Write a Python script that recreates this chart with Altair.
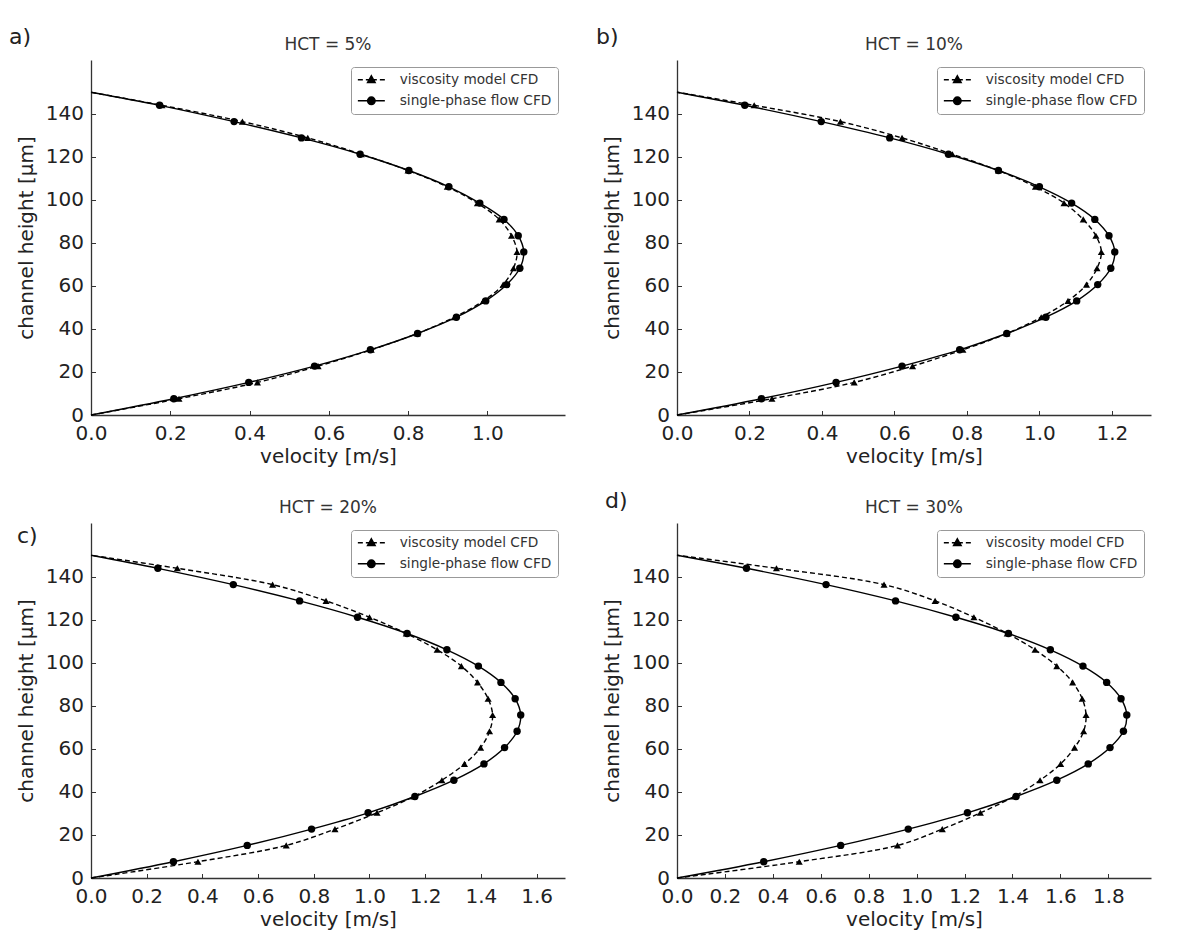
import altair as alt
import pandas as pd

FONT = "DejaVu Sans"

# sampled channel heights [µm], bottom wall to top wall
heights = [0, 7.58, 15.15, 22.73, 30.30, 37.88, 45.45, 53.03, 60.61, 68.18, 75.76,
           83.33, 90.91, 98.48, 106.06, 113.64, 121.21, 128.79, 136.36, 143.94, 150]

# velocity profiles [m/s], one value per height
visc_5 = [0, 0.222, 0.420, 0.573, 0.707, 0.823, 0.917, 0.990, 1.040, 1.066, 1.075,
          1.061, 1.030, 0.975, 0.899, 0.800, 0.682, 0.547, 0.382, 0.179, 0]
single_5 = [0, 0.209, 0.398, 0.564, 0.705, 0.824, 0.922, 0.996, 1.049, 1.082, 1.092,
            1.078, 1.042, 0.981, 0.903, 0.802, 0.679, 0.531, 0.361, 0.173, 0]

visc_10 = [0, 0.262, 0.489, 0.650, 0.789, 0.910, 1.005, 1.079, 1.130, 1.159, 1.171,
           1.156, 1.121, 1.068, 0.989, 0.887, 0.760, 0.621, 0.451, 0.213, 0]
single_10 = [0, 0.233, 0.439, 0.621, 0.780, 0.910, 1.018, 1.103, 1.161, 1.197, 1.208,
             1.192, 1.153, 1.089, 1.000, 0.887, 0.749, 0.587, 0.398, 0.187, 0]

visc_20 = [0, 0.384, 0.701, 0.876, 1.027, 1.159, 1.260, 1.341, 1.399, 1.431, 1.442,
           1.426, 1.388, 1.330, 1.243, 1.132, 1.000, 0.844, 0.652, 0.310, 0]
single_20 = [0, 0.296, 0.561, 0.792, 0.995, 1.163, 1.303, 1.411, 1.485, 1.530, 1.543,
             1.523, 1.472, 1.391, 1.278, 1.135, 0.957, 0.749, 0.511, 0.240, 0]

visc_30 = [0, 0.510, 0.920, 1.107, 1.266, 1.407, 1.515, 1.601, 1.659, 1.697, 1.707,
           1.691, 1.651, 1.585, 1.494, 1.378, 1.239, 1.077, 0.864, 0.415, 0]
single_30 = [0, 0.362, 0.683, 0.965, 1.212, 1.415, 1.585, 1.716, 1.807, 1.863, 1.877,
             1.853, 1.793, 1.694, 1.558, 1.383, 1.164, 0.912, 0.622, 0.290, 0]

series_names = ["viscosity model CFD", "single-phase flow CFD"]
panel_labels = ["a)", "b)", "c)", "d)"]
hct_titles = ["HCT = 5%", "HCT = 10%", "HCT = 20%", "HCT = 30%"]
x_max = [1.196, 1.308, 1.702, 1.978]
x_ticks = [
    [0.0, 0.2, 0.4, 0.6, 0.8, 1.0],
    [0.0, 0.2, 0.4, 0.6, 0.8, 1.0, 1.2],
    [0.0, 0.2, 0.4, 0.6, 0.8, 1.0, 1.2, 1.4, 1.6],
    [0.0, 0.2, 0.4, 0.6, 0.8, 1.0, 1.2, 1.4, 1.6, 1.8],
]
y_ticks = [0, 20, 40, 60, 80, 100, 120, 140]

profiles = [(visc_5, single_5), (visc_10, single_10), (visc_20, single_20), (visc_30, single_30)]

PW, PH = 474, 355
# where the "a)" ... "d)" tags sit, relative to each plot's top-left corner
label_dx = [-82, -81, -74, -72]
label_dy = [-16, -16, 20, -15]

# legend handles: dashed line + triangle, solid line + circle
legend_paths = [
    "M-1.2,0H-0.2M0.4,0H2.6M3.2,0H4.2M1.5,-0.8L2.25,0.55L0.75,0.55Z",
    "M-1.2,0H4.2M2.25,0A0.75,0.75 0 1,1 0.75,0A0.75,0.75 0 1,1 2.25,0Z",
]


def make_panel(i):
    visc, single = profiles[i]
    df = pd.DataFrame({
        "height": heights + heights,
        "velocity": visc + single,
        "series": [series_names[0]] * len(heights) + [series_names[1]] * len(heights),
    })
    base = alt.Chart(df).encode(
        x=alt.X("velocity:Q", title="velocity [m/s]",
                scale=alt.Scale(domain=[0, x_max[i]], nice=False, zero=True),
                axis=alt.Axis(values=x_ticks[i], format=".1f", labelFlush=False,
                              tickSize={"expr": "-4.5"}, labelPadding=12.6, titlePadding=3)),
        y=alt.Y("height:Q", title="channel height [μm]",
                scale=alt.Scale(domain=[0, 165], nice=False),
                axis=alt.Axis(values=y_ticks, format="d",
                              tickSize={"expr": "-4.5"}, labelPadding=12, titlePadding=9)),
        order=alt.Order("height:Q"),
    )
    is_visc = alt.datum.series == series_names[0]
    is_single = alt.datum.series == series_names[1]
    inner = (alt.datum.height > 0) & (alt.datum.height < 150)

    visc_line = base.transform_filter(is_visc).mark_line(
        color="black", strokeWidth=1.4, strokeDash=[5, 3], interpolate="catmull-rom")
    single_line = base.transform_filter(is_single).mark_line(
        color="black", strokeWidth=1.4, interpolate="catmull-rom")
    visc_pts = base.transform_filter(is_visc).transform_filter(inner).mark_point(
        shape="triangle-up", filled=True, color="black", size=50, opacity=1)
    single_pts = base.transform_filter(is_single).transform_filter(inner).mark_point(
        shape="circle", filled=True, color="black", size=55, opacity=1)

    # empty layer that only carries the legend
    key = alt.Chart(df).transform_filter("false").mark_point(
        filled=False, color="black", fill="black", stroke="black", strokeWidth=1.5, opacity=1
    ).encode(
        shape=alt.Shape("series:N",
                        scale=alt.Scale(domain=series_names, range=legend_paths),
                        legend=alt.Legend(title=None, orient="top-right", offset=7))
    )

    ann = pd.DataFrame({"label": [panel_labels[i]], "title": [hct_titles[i]]})
    tag = alt.Chart(ann).mark_text(
        align="left", baseline="alphabetic", font=FONT, fontSize=22, color="#222"
    ).encode(x=alt.value(label_dx[i]), y=alt.value(label_dy[i]), text="label:N")
    head = alt.Chart(ann).mark_text(
        align="center", baseline="alphabetic", font=FONT, fontSize=17, color="#333"
    ).encode(x=alt.value(PW / 2), y=alt.value(-10), text="title:N")

    return alt.layer(visc_line, single_line, visc_pts, single_pts, key, tag, head).properties(
        width=PW, height=PH)


panels = [make_panel(i) for i in range(4)]

chart = alt.concat(
    *panels, columns=2, spacing={"row": 108, "column": 112}, bounds="flush"
).resolve_scale(
    shape="independent"
).resolve_legend(
    shape="independent"
).properties(
    padding={"left": 1, "top": 18, "right": 5, "bottom": 5}
).configure_view(
    stroke=None
).configure_axis(
    grid=False,
    labelFont=FONT, labelFontSize=20, labelColor="#222",
    titleFont=FONT, titleFontSize=20, titleFontWeight="normal", titleColor="#222",
    domainColor="#333", domainWidth=1.3, tickColor="#333", tickWidth=1,
).configure_legend(
    padding=6, rowPadding=6, cornerRadius=3,
    strokeColor="#999", fillColor="white",
    labelFont=FONT, labelFontSize=13.7, labelColor="#333", labelLimit=300, labelOffset=29,
    symbolSize=100, symbolStrokeWidth=1.5,
)

chart.save("out.html", embed_options={"renderer": "svg", "actions": False})
